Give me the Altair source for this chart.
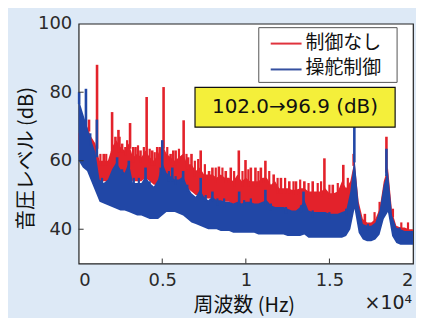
import altair as alt
import pandas as pd

# ---------------- data ----------------
freq = [i * 250 for i in range(81)]

red_hi = [68, 70, 70, 67, 65, 60, 60, 60, 64, 66, 64, 63, 65, 61, 62, 61, 63, 61, 60, 62,
          65, 62, 61, 60, 61, 62, 59, 59, 57, 58, 56, 56, 56, 55, 56, 55, 55, 54, 56, 54,
          55, 54, 54, 54, 55, 55, 53, 54, 52, 52, 52, 51.5, 51.5, 52, 52, 51, 51, 51, 51, 52,
          50.5, 50.5, 51, 54, 52, 54, 60, 48, 43, 42, 42, 43, 46, 54, 58, 45, 41, 40.5, 40.5, 40, 40]
red_lo = [62, 60, 58, 57, 56, 54, 54, 54, 55, 56, 55, 55, 55, 54, 54, 54, 55, 54, 53, 53,
          55, 54, 53, 52, 52, 53, 52, 51, 50, 50, 49, 49, 49, 48, 48, 48, 48, 47, 47, 47,
          47, 47, 47, 46.5, 46.5, 46.5, 46, 46, 46, 45.5, 45.5, 45, 45, 45, 45, 44.5, 44.5, 44.5, 44.5, 44.5,
          44, 44, 44, 44.5, 44, 45, 49, 43, 39, 38.5, 38.5, 39, 41, 45, 47, 40, 38, 37.5, 37.5, 37.5, 37.5]
blue_hi = [78, 74, 70, 66, 62.5, 54.5, 53.5, 54.5, 57.5, 59.5, 57.5, 56.5, 59.5, 53.5, 53.5, 53.5, 55.5, 53.5, 52.5, 54.5,
           59.5, 56.5, 55.5, 54.5, 54.5, 55.5, 52.5, 50.5, 49.5, 51.5, 49.5, 48.5, 49.5, 48.5, 48.5, 48, 48, 47.5, 48, 47.5,
           48, 48, 47.5, 47.5, 48, 48.5, 47, 46.5, 46.5, 46.5, 46, 45.5, 45.5, 46.5, 48.5, 45.5, 45, 45, 45, 45,
           44.5, 44.5, 44.5, 45, 45.5, 51, 61, 47, 41.5, 41, 41, 42, 45.5, 53, 57, 44, 40.5, 40, 39.5, 39.5, 39.5]
blue_lo = [60, 58, 57, 54, 51, 48, 47.5, 47, 46.5, 46, 45.5, 45.5, 45, 44.5, 44, 44, 43.5, 43, 43, 43,
           44, 45, 45, 45, 44.5, 44, 43, 42, 41.5, 41, 40.5, 40, 40, 40, 39.5, 39.5, 39.5, 39, 39, 39,
           39, 39, 39, 38.5, 38.5, 38.5, 38.5, 38.5, 38.5, 38.5, 38, 38, 38, 38, 38.5, 37.5, 37.5, 37.5, 37.5, 37.5,
           37.5, 37.5, 37.5, 37.5, 38, 40, 46, 39, 37, 36.5, 36.5, 37, 38.5, 43, 45, 38, 36, 35.5, 35.5, 35.5, 35.5]

# tall narrow peaks
red_spike_f = [620, 1100, 1500, 2000, 2200, 2380, 2600, 2800, 3075, 3400, 3700, 4067, 4400,
               4700, 5080, 5500, 5800, 6280, 6550, 6750, 7300, 7800, 8000, 8390, 8800, 9100,
               9580, 9980, 10300, 10575, 10900, 11170, 11665, 12100, 12600, 13000, 13500,
               14000, 14700, 15200, 15830, 16450, 17120, 18410]
red_spike_top = [72, 88, 62, 74.2, 67, 69, 65, 64, 71, 64, 63, 78.6, 63,
                 64, 81.5, 62, 63, 71.8, 61, 62, 63, 57, 58, 58.3, 57, 58,
                 63, 60.2, 58, 58, 58, 60, 56, 55, 54, 54, 54,
                 54, 60.7, 53, 58.8, 62, 44.5, 67]

blue_spike_f = [30, 436, 1090, 2300, 3000, 4000, 5000, 5600, 6250, 7300, 8000, 9600,
                11170, 13450, 16490, 18410]
blue_spike_top = [80, 81, 72, 61, 60, 58, 66, 58, 57, 55, 51, 51, 51.5, 51, 70, 63.5]

# small ripples on the upper edge of each band
red_minor_f = [1300, 1650, 2450, 2900, 3250, 3550, 3900, 4250, 4550, 4850, 5300, 5650, 6000,
               6450, 6950, 7150, 7550, 8200, 8600, 9300, 9800, 10150, 10750, 11400, 11900,
               12350, 12850, 13250, 13750, 14300, 14500, 15000, 15500, 16100, 17700, 18000,
               18800, 19300, 19700]
red_minor_top = [62, 62, 67, 66, 64, 64.5, 64, 63.5, 62.5, 64, 64, 63, 63.5,
                 62, 60, 60.5, 59, 58, 58, 57, 57, 57.5, 57, 57, 55,
                 55, 54, 54.5, 53.5, 53.5, 54, 53, 53.5, 55, 45, 48,
                 46, 42, 42]
blue_minor_f = [700, 1400, 1900, 2600, 3300, 3600, 4250, 4900, 5400, 5800, 6500,
                7600, 8300, 8700, 9900, 10300, 11500, 12400, 13300, 14000, 15000, 16000,
                17300, 19200]
blue_minor_top = [68, 55, 56, 57.5, 55, 55, 54, 56, 57, 55.5, 53,
                  50, 49, 49, 48.5, 49, 47.5, 46.5, 47, 45.5, 45, 46,
                  41.5, 40.5]

series_names = ["制御なし", "操舵制御"]
series_colors = ["#e3222b", "#2147a6"]
legend_line_colors = ["#e0333d", "#3550a0"]

y_ticks = [40, 60, 80, 100]
x_ticks = [0, 5000, 10000, 15000, 20000]

note_text = "102.0→96.9 (dB)"
note_box_f = [6960, 18930]
note_box_db = [81.4, 69.8]
note_pos = [12940, 75.6]


# ---------------- tables ----------------
def band_at(hi, f):
    return hi[min(len(hi) - 1, int(round(f / 250)))] - 1.5


def spikes(fs, tops, hi, name):
    return pd.DataFrame({"f": fs, "top": tops, "base": [band_at(hi, f) for f in fs], "s": name})


red_band = pd.DataFrame({"f": freq, "hi": red_hi, "lo": red_lo, "s": series_names[0]})
blue_band = pd.DataFrame({"f": freq, "hi": blue_hi, "lo": blue_lo, "s": series_names[1]})
red_sp = spikes(red_spike_f, red_spike_top, red_hi, series_names[0])
blue_sp = spikes(blue_spike_f, blue_spike_top, blue_hi, series_names[1])
red_mn = spikes(red_minor_f, red_minor_top, red_hi, series_names[0])
blue_mn = spikes(blue_minor_f, blue_minor_top, blue_hi, series_names[1])

xs = alt.Scale(domain=[0, 20000], nice=False, zero=False)
ys = alt.Scale(domain=[30, 100], nice=False, zero=False)
cs = alt.Scale(domain=series_names, range=series_colors)

NUM = "DejaVu Sans"
JP = "Noto Sans CJK JP"

x_enc = alt.X("f:Q", scale=xs, axis=alt.Axis(
    values=x_ticks, labelExpr="datum.value / 10000", ticks=False, tickSize=0,
    domain=False, grid=False, labelFont=NUM, labelFontSize=18, labelColor="#2a2a2a",
    labelPadding=8, title="周波数 (Hz)", titleFont=JP, titleFontSize=20,
    titleFontWeight="normal", titleColor="#111", titleX=166, titleY=42,
    titleBaseline="middle", titleAlign="center"))
y_enc = alt.Y("hi:Q", scale=ys, axis=alt.Axis(
    values=y_ticks, ticks=False, tickSize=0, domain=False, grid=False,
    labelFont=NUM, labelFontSize=18, labelColor="#2a2a2a", labelPadding=7,
    title="音圧レベル (dB)", titleFont=JP, titleFontSize=20, titleFontWeight="normal",
    titleColor="#111", titleX=-52, titleY=135, titleAngle=-90,
    titleBaseline="middle", titleAlign="center"))

color_enc = alt.Color("s:N", scale=cs, legend=None)

red_area = alt.Chart(red_band).mark_area(opacity=1).encode(
    x=x_enc, y=y_enc, y2="lo:Q", color=color_enc)
blue_area = alt.Chart(blue_band).mark_area(opacity=1).encode(
    x="f:Q", y="hi:Q", y2="lo:Q", color=color_enc)


def rule_layer(df, w):
    return alt.Chart(df).mark_rule(strokeWidth=w).encode(
        x="f:Q", y="top:Q", y2="base:Q", color=color_enc)


red_spikes = rule_layer(red_sp, 2.6)
blue_spikes = rule_layer(blue_sp, 2.6)
red_minor = rule_layer(red_mn, 2.2)
blue_minor = rule_layer(blue_mn, 2.2)

# inward ticks
xt = pd.DataFrame({"f": x_ticks[1:-1]})
yt = pd.DataFrame({"v": y_ticks[:-1]})
x_tick_marks = alt.Chart(xt).mark_rule(color="#333", strokeWidth=1).encode(
    x="f:Q", y=alt.value(241), y2=alt.value(236))
y_tick_marks = alt.Chart(yt).mark_rule(color="#333", strokeWidth=1).encode(
    y="v:Q", x=alt.value(0), x2=alt.value(5))

# annotation box
note_df = pd.DataFrame({"x1": [note_box_f[0]], "x2": [note_box_f[1]],
                        "y1": [note_box_db[0]], "y2": [note_box_db[1]],
                        "tx": [note_pos[0]], "ty": [note_pos[1]], "t": [note_text]})
note_box = alt.Chart(note_df).mark_rect(fill="#f4ef3a", stroke="#111", strokeWidth=1.2).encode(
    x="x1:Q", x2="x2:Q", y="y1:Q", y2="y2:Q")
note_txt = alt.Chart(note_df).mark_text(font=NUM, fontSize=20, color="#111",
                                        align="center", baseline="middle").encode(
    x="tx:Q", y="ty:Q", text="t:N")

# legend (drawn by hand, as in the figure)
one = pd.DataFrame({"k": [0]})
legend_box = alt.Chart(one).mark_rect(fill="white", stroke="#555", strokeWidth=1).encode(
    x=alt.value(181), x2=alt.value(320), y=alt.value(4), y2=alt.value(59))
legend_layers = [legend_box]
for i, (name, col) in enumerate(zip(series_names, legend_line_colors)):
    yy = 19 + 26 * i
    legend_layers.append(alt.Chart(one).mark_rule(color=col, strokeWidth=2).encode(
        x=alt.value(193), x2=alt.value(224), y=alt.value(yy + 1)))
    legend_layers.append(alt.Chart(pd.DataFrame({"t": [name]})).mark_text(
        font=JP, fontSize=19, color="#111", align="left", baseline="middle").encode(
        text="t:N", x=alt.value(228), y=alt.value(yy)))

exp_df = pd.DataFrame({"t": ["×10⁴"]})
exp_txt = alt.Chart(exp_df).mark_text(font=NUM, fontSize=19, color="#222",
                                      align="right", baseline="middle").encode(
    text="t:N", x=alt.value(335), y=alt.value(281))

chart = alt.layer(
    red_area, red_minor, red_spikes, blue_area, blue_minor, blue_spikes,
    x_tick_marks, y_tick_marks, note_box, note_txt, exp_txt, *legend_layers
).properties(
    width=336, height=241,
    background="#dde9f6",
    padding={"left": 71, "top": 15, "right": 3, "bottom": 54},
    autosize=alt.AutoSizeParams(type="none"),
).configure_view(
    stroke="#222", strokeWidth=1.2, fill="white"
)

chart.save("out.html", embed_options={"renderer": "svg", "actions": False})
